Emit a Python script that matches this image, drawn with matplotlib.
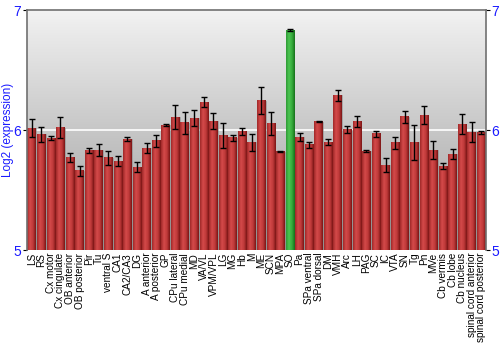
import numpy as np
import matplotlib
matplotlib.use('Agg')
import matplotlib.pyplot as plt
from matplotlib.colors import LinearSegmentedColormap

plt.rcParams['font.family'] = ['Liberation Sans', 'DejaVu Sans']

# Data
regions = ['LS', 'RS', 'Cx motor', 'Cx cingulate', 'OB anterior', 'OB posterior', 'Pir', 'Tu',
           'ventral S', 'CA1', 'CA2/CA3', 'DG', 'A anterior', 'A posterior', 'GP', 'CPu lateral',
           'CPu medial', 'MD', 'VA/VL', 'VPM/VPL', 'LG', 'MG', 'Hb', 'M', 'ME', 'SCN', 'MPA', 'SO',
           'Pa', 'SPa ventral', 'SPa dorsal', 'DM', 'VMH', 'Arc', 'LH', 'PAG', 'SC', 'IC', 'VTA',
           'SN', 'Tg', 'Pn', 'MVe', 'Cb vermis', 'Cb lobe', 'Cb nucleus', 'spinal cord anterior',
           'spinal cord posterior']
values = [6.014, 5.964, 5.930, 6.020, 5.770, 5.660, 5.830, 5.830,
          5.767, 5.740, 5.925, 5.690, 5.850, 5.910, 6.040, 6.108,
          6.060, 6.100, 6.233, 6.075, 5.958, 5.936, 5.986, 5.897, 6.245, 6.056, 5.820, 6.833,
          5.940, 5.878, 6.070, 5.900, 6.290, 6.003, 6.070, 5.825, 5.967, 5.708, 5.892,
          6.110, 5.897, 6.125, 5.833, 5.700, 5.800, 6.050, 5.983,
          5.978]
errors = [0.076, 0.060, 0.017, 0.086, 0.040, 0.043, 0.024, 0.050,
          0.060, 0.043, 0.020, 0.040, 0.045, 0.050, 0.010, 0.100,
          0.090, 0.070, 0.045, 0.066, 0.104, 0.024, 0.028, 0.070, 0.115, 0.095, 0.005, 0.005,
          0.033, 0.025, 0.005, 0.028, 0.047, 0.030, 0.046, 0.007, 0.028, 0.060, 0.050,
          0.050, 0.145, 0.075, 0.073, 0.025, 0.040, 0.080, 0.086,
          0.014]
highlight = 'SO'

fig = plt.figure(figsize=(5, 3.5), dpi=100)
ax = fig.add_axes([0.054, 0.2857, 0.918, 0.6857])

ymin, ymax = 5, 7
x = np.arange(len(regions))
ax.set_xlim(-0.5, len(regions) - 0.5)
ax.set_ylim(ymin, ymax)

# gray vertical gradient background, light at the top
bg = np.linspace(0, 1, 256).reshape(-1, 1)
bg_cmap = LinearSegmentedColormap.from_list('bg', ['#f2f2f2', '#9c9c9c'])
ax.imshow(bg, cmap=bg_cmap, aspect='auto', origin='upper',
          extent=[-0.5, len(regions) - 0.5, ymin, ymax], zorder=0)
ax.axhline(6, color='white', lw=1.2, zorder=1)

bars = ax.bar(x, np.array(values) - ymin, bottom=ymin, width=0.9, color='none',
              edgecolor='#888888', linewidth=0.4, zorder=2)

red_cmap = LinearSegmentedColormap.from_list('red', ['#a02828', '#d44a4a', '#c03a3a', '#7a1515'])
green_cmap = LinearSegmentedColormap.from_list('green', ['#2e9a35', '#4cc552', '#36ad3c', '#17701a'])
grad = np.linspace(0, 1, 64).reshape(1, -1)
for name, patch in zip(regions, bars):
    x0, y0 = patch.get_x(), patch.get_y()
    w, h = patch.get_width(), patch.get_height()
    cm = green_cmap if name == highlight else red_cmap
    ax.imshow(grad, cmap=cm, aspect='auto', extent=[x0, x0 + w, y0, y0 + h], zorder=2)

ax.errorbar(x, values, yerr=errors, fmt='none', ecolor='black', elinewidth=1,
            capsize=2.5, capthick=1, zorder=3)

ax.set_xlim(-0.5, len(regions) - 0.5)
ax.set_ylim(ymin, ymax)

ax.set_yticks([5, 6, 7])
ax.tick_params(axis='y', which='both', left=True, right=True, labelleft=True, labelright=True,
               labelsize=10, labelcolor='#1a1aff', length=3, color='black', pad=1)
ax.set_xticks(x)
ax.set_xticklabels(regions, rotation=90, fontsize=7.2)
ax.tick_params(axis='x', length=0, pad=2)
ax.set_ylabel('Log2 (expression)', color='#1a1aff', fontsize=8.5, labelpad=0)

for side in ['left', 'right', 'top']:
    ax.spines[side].set_color('#707070')
    ax.spines[side].set_linewidth(1.2)
ax.spines['bottom'].set_visible(False)

fig.savefig('out.png', dpi=100)
